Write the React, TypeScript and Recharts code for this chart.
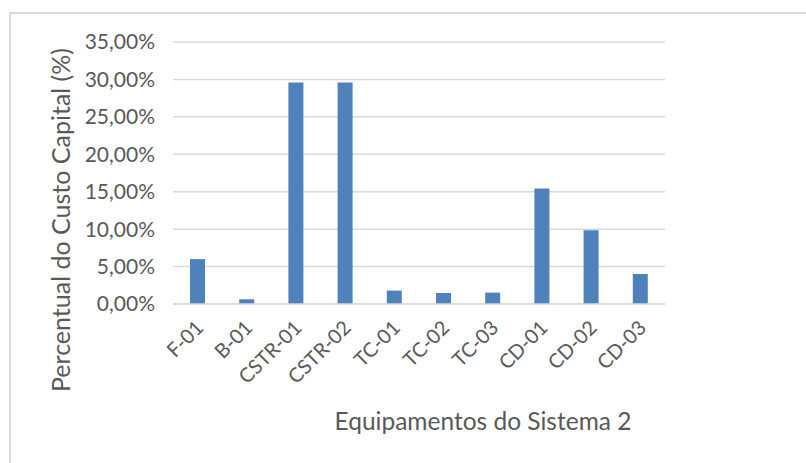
import React from "react";
import { BarChart, Bar, XAxis, YAxis, CartesianGrid } from "recharts";

// equipamentos e participação no custo capital (%)
const equipamentos = [
  "F-01",
  "B-01",
  "CSTR-01",
  "CSTR-02",
  "TC-01",
  "TC-02",
  "TC-03",
  "CD-01",
  "CD-02",
  "CD-03",
];
const percentuais = [6.0, 0.63, 29.6, 29.6, 1.79, 1.47, 1.52, 15.43, 9.85, 4.01];
const yTicks = [0, 5, 10, 15, 20, 25, 30, 35];

const data = equipamentos.map((nome, i) => ({ nome, valor: percentuais[i] }));

const FONT = "Lato, 'Open Sans', sans-serif";
const TEXT = "#595959";

const fmt = (v: number) => `${v.toFixed(2).replace(".", ",")}%`;

const XTick = (props: any) => {
  const { x, y, payload } = props;
  const tx = x + 7;
  const ty = y + 17;
  return (
    <text
      x={tx}
      y={ty}
      textAnchor="end"
      fill={TEXT}
      fontSize={20}
      fontFamily={FONT}
      transform={`rotate(-45, ${tx}, ${ty})`}
    >
      {payload.value}
    </text>
  );
};

const App = () => {
  return (
    <div
      style={{
        position: "absolute",
        left: 0,
        top: 0,
        width: 806,
        height: 463,
        background: "#fff",
        overflow: "hidden",
      }}
    >
      {/* moldura da área do gráfico */}
      <div
        style={{
          position: "absolute",
          left: 9,
          top: 12,
          width: 900,
          height: 600,
          borderLeft: "2px solid #d9d9d9",
          borderTop: "2px solid #d9d9d9",
        }}
      />
      <BarChart
        width={806}
        height={463}
        data={data}
        margin={{ top: 42, right: 141, left: 10, bottom: 0 }}
        barSize={15}
        style={{ position: "absolute", left: 0, top: 0 }}
      >
        <CartesianGrid vertical={false} stroke="#d9d9d9" strokeWidth={1.5} />
        <XAxis
          dataKey="nome"
          height={159}
          interval={0}
          tickLine={false}
          axisLine={{ stroke: "#d9d9d9", strokeWidth: 1.5 }}
          tick={<XTick />}
          label={{
            content: (p: any) => {
              const vb = p.viewBox;
              return (
                <text
                  x={483}
                  y={vb.y + 126}
                  textAnchor="middle"
                  fill={TEXT}
                  fontSize={24.5}
                  fontFamily={FONT}
                >
                  Equipamentos do Sistema 2
                </text>
              );
            },
          }}
        />
        <YAxis
          width={163}
          domain={[0, 35]}
          ticks={yTicks}
          tickFormatter={fmt}
          tickLine={false}
          axisLine={false}
          tickSize={6}
          tickMargin={12}
          tick={{ fill: TEXT, fontSize: 21, fontFamily: FONT }}
          label={{
            content: (p: any) => {
              const vb = p.viewBox;
              const cx = 60;
              const cy = vb.y + vb.height / 2 + 47;
              return (
                <text
                  x={cx}
                  y={cy}
                  textAnchor="middle"
                  dominantBaseline="central"
                  fill={TEXT}
                  fontSize={25}
                  fontFamily={FONT}
                  transform={`rotate(-90, ${cx}, ${cy})`}
                >
                  Percentual do Custo Capital (%)
                </text>
              );
            },
          }}
        />
        <Bar dataKey="valor" fill="#4f81bd" isAnimationActive={false} />
      </BarChart>
    </div>
  );
};

export default App;
